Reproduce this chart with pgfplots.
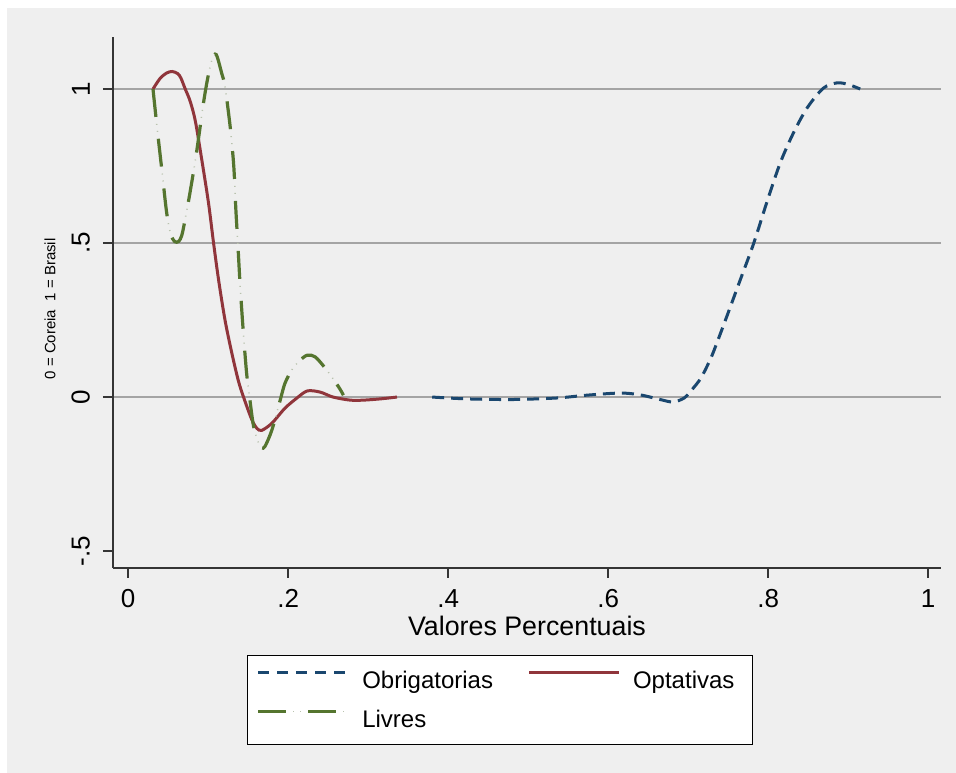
\documentclass[border=0pt]{standalone}
\usepackage{pgfplots}
\pgfplotsset{compat=1.18}
\usepackage{fontspec}
\setmainfont{Liberation Sans}
\definecolor{bg}{HTML}{EFEFEF}
\definecolor{axc}{HTML}{353535}
\definecolor{gridc}{HTML}{A4A4A4}
\definecolor{sblue}{HTML}{1A476F}
\definecolor{sred}{HTML}{90353B}
\definecolor{sgreen}{HTML}{55752F}
\definecolor{sdot}{HTML}{B9C2AE}
\begin{document}
\begin{tikzpicture}[x=1pt,y=1pt]
\useasboundingbox (0,0) rectangle (956,773);
\fill[white] (0,0) rectangle (956,773);
\fill[bg] (7,0) rectangle (956,765);
\begin{axis}[
  at={(113pt,205pt)}, anchor=south west,
  scale only axis, width=828pt, height=531pt,
  xmin=-0.019, xmax=1.016, ymin=-0.555, ymax=1.169,
  axis x line*=bottom, axis y line*=left,
  axis line style={-, line width=2pt, color=axc},
  tick align=outside, major tick length=10pt,
  tick style={line width=2pt, color=axc},
  /pgf/number format/assume math mode=true,
  xtick={0,0.2,0.4,0.6,0.8,1},
  xticklabels={0,.2,.4,.6,.8,1},
  ytick={0,0.5,1},
  yticklabels={0,.5,1},
  extra y ticks={-0.5},
  extra y tick labels={-.5},
  extra y tick style={grid=none},
  ymajorgrids,
  major grid style={line width=2.5pt, color=gridc},
  xticklabel style={font=\fontsize{26}{30}\selectfont, anchor=base, inner sep=0pt, yshift=-30pt},
  yticklabel style={font=\fontsize{26}{30}\selectfont, anchor=south, inner sep=0pt, xshift=-13pt, rotate=90},
  xlabel={Valores Percentuais},
  xlabel style={at={(axis description cs:0.5,-0.128)}, anchor=base, inner sep=0pt, font=\fontsize{26.8}{30}\selectfont},
  ylabel={0 = Coreia\ \ 1 = Brasil},
  ylabel style={at={(axis description cs:-0.0761,0.488)}, anchor=center, inner sep=0pt, font=\fontsize{15}{18}\selectfont},
  legend columns=2,
  legend style={at={(axis description cs:0.1618,-0.1638)}, anchor=north west,
    draw=black, line width=1.5pt, fill=white,
    inner xsep=9pt, inner ysep=12pt,
    font=\fontsize{24}{28}\selectfont,
    nodes={inner sep=0pt, text height=21pt, text depth=5pt},
    row sep=13pt, column sep=0pt},
  legend cell align=left,
]
\addplot[sblue, line width=3pt, dash pattern=on 12pt off 7pt, smooth,
  legend image code/.code={\path[draw=none,fill=none] (0pt,0pt) -- (104pt,0pt); \draw[sblue, line width=3pt, dash pattern=on 11pt off 8pt] (0pt,8pt) -- (90pt,8pt);}]
coordinates {
(0.380,0.000) (0.424,-0.006) (0.481,-0.008) (0.536,-0.003) (0.573,0.006)
(0.615,0.013) (0.640,0.007) (0.665,-0.008) (0.681,-0.016) (0.695,-0.003)
(0.705,0.025) (0.715,0.058) (0.723,0.097) (0.731,0.143) (0.748,0.260) (0.765,0.380)
(0.782,0.500) (0.798,0.630) (0.815,0.760) (0.832,0.860) (0.849,0.940)
(0.869,1.003) (0.886,1.020) (0.900,1.015) (0.915,1.000)
};
\addlegendentry{Obrigatorias}
\addplot[sred, line width=3pt, smooth,
  legend image code/.code={\path[draw=none,fill=none] (-36pt,0pt) -- (104pt,0pt); \draw[sred, line width=3pt] (0pt,8pt) -- (90pt,8pt);}]
coordinates {
(0.031,1.000) (0.040,1.035) (0.048,1.052) (0.055,1.057) (0.062,1.050)
(0.066,1.035) (0.071,1.002) (0.0775,0.960) (0.084,0.895) (0.092,0.770)
(0.1004,0.630) (0.1067,0.500) (0.113,0.380) (0.121,0.250) (0.1296,0.142)
(0.138,0.050) (0.1455,-0.010) (0.1546,-0.074) (0.161,-0.102) (0.167,-0.108)
(0.1796,-0.085) (0.196,-0.036) (0.211,-0.003) (0.224,0.020) (0.240,0.016)
(0.256,0.000) (0.2775,-0.010) (0.294,-0.010) (0.315,-0.006) (0.336,0.000)
};
\addlegendentry{Optativas\rule{9pt}{0pt}}
\addplot[sgreen, line width=3.2pt, smooth, dash pattern=on 28pt off 22pt,
  legend image code/.code={\path[draw=none,fill=none] (0pt,0pt) -- (104pt,0pt); \draw[sgreen, line width=3.2pt, dash pattern=on 28pt off 22pt] (0pt,8pt) -- (90pt,8pt); \draw[sdot, line width=1.5pt, dash pattern=on 0pt off 35pt on 1pt off 6pt on 1pt off 7pt] (0pt,8pt) -- (90pt,8pt);}]
table {
0.031 1.000
0.036 0.877
0.0425 0.727
0.048 0.600
0.053 0.530
0.058 0.505
0.063 0.505
0.067 0.525
0.071 0.575
0.077 0.660
0.084 0.770
0.089 0.860
0.094 0.953
0.099 1.030
0.1046 1.094
0.110 1.112
0.117 1.050
0.121 1.008
0.1275 0.877
0.132 0.748
0.1346 0.607
0.137 0.500
0.140 0.359
0.144 0.207
0.148 0.078
0.1517 0.000
0.1567 -0.095
0.163 -0.150
0.167 -0.165
0.171 -0.160
0.1796 -0.107
0.190 -0.010
0.196 0.045
0.205 0.090
0.215 0.120
0.224 0.136
0.234 0.130
0.248 0.088
0.263 0.033
0.269 0.006
};
\addlegendentry{Livres}
\addplot[sdot, line width=1.5pt, smooth, dash pattern=on 0pt off 35pt on 1pt off 6pt on 1pt off 7pt, forget plot]
table {
0.031 1.000
0.036 0.877
0.0425 0.727
0.048 0.600
0.053 0.530
0.058 0.505
0.063 0.505
0.067 0.525
0.071 0.575
0.077 0.660
0.084 0.770
0.089 0.860
0.094 0.953
0.099 1.030
0.1046 1.094
0.110 1.112
0.117 1.050
0.121 1.008
0.1275 0.877
0.132 0.748
0.1346 0.607
0.137 0.500
0.140 0.359
0.144 0.207
0.148 0.078
0.1517 0.000
0.1567 -0.095
0.163 -0.150
0.167 -0.165
0.171 -0.160
0.1796 -0.107
0.190 -0.010
0.196 0.045
0.205 0.090
0.215 0.120
0.224 0.136
0.234 0.130
0.248 0.088
0.263 0.033
0.269 0.006
};
\end{axis}
\end{tikzpicture}
\end{document}
